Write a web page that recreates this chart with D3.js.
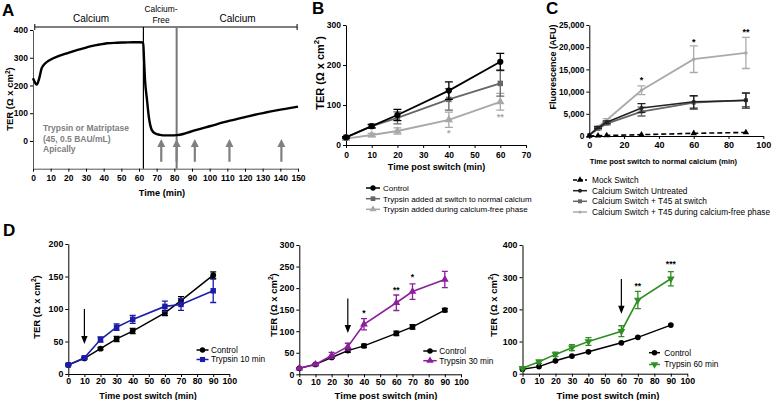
<!DOCTYPE html>
<html><head><meta charset="utf-8">
<script src="https://cdn.jsdelivr.net/npm/d3@7"></script>
<style>
body{margin:0;background:#fff;}
svg{font-family:"Liberation Sans",Arial,sans-serif;}
</style></head><body>
<script>
// ---------- Panel A data ----------
const aTime=[0,1,2.1,3.5,4.9,7,9.6,14,19.1,24,28.5,33,37.9,42,47.4,52,56.8,60,62.4,62.8,63.4,64.5,65.5,67.2,69,71.9,75,78,81.3,85,88,92.6,100,111.5,120,134,142,150];
const aTER=[226,212,203,225,262,280,292,305,316,326,334,342,348,352,354,355,356,356,355,300,220,150,90,40,28,22,20,20,21,25,31,40,53,73,86,106,115,124];
const aArrowTimes=[72.6,81.3,91.6,111.2,140.6];
const aXTicks=d3.range(0,151,10);
const aYTicks=[0,100,200,300,400];
const aPhaseLines=[62.5,81.3];

// ---------- Panel B data ----------
const bTime=[0,10,20,40,60];
const bControl=[19,47,75,136,208];
const bControlErr=[2,4,14,22,21];
const bSwitch=[19,47,68,114,154];
const bSwitchErr=[2,5,15,27,32];
const bDuring=[16,25,35,63,108];
const bDuringErr=[2,4,8,19,21];
const bXTicks=d3.range(0,71,10);
const bYTicks=[0,100,200,300];
const bLegend=["Control","Trypsin added at switch to normal calcium","Trypsin added during calcium-free phase"];

// ---------- Panel C data ----------
const cTime=[0,5,10,30,60,90];
const cMock=[0,60,120,300,600,800];
const cUntreated=[200,1900,3100,6300,7700,8000];
const cUntreatedErr=[0,200,300,1000,1400,1700];
const cSwitch=[200,1600,2800,5500,7500,8100];
const cSwitchErr=[0,200,300,1000,1500,1500];
const cDuring=[200,2100,3600,10300,17300,18700];
const cDuringErr=[0,200,300,1000,3000,3500];
const cXTicks=[0,20,40,60,80,100];
const cYTicks=[0,5000,10000,15000,20000,25000];
const cLegend=["Mock Switch","Calcium Switch Untreated","Calcium Switch + T45 at switch","Calcium Switch + T45 during calcium-free phase"];

// ---------- Panel D data ----------
const dTime=[0,10,20,30,40,60,70,90];
const dXTicks=d3.range(0,101,10);
const d1Control=[14,24,39,54,66,94,113,152];
const d1ControlErr=[1,1,2,4,4,4,6,5];
const d1Trypsin=[14,25,53,72,84,104,107,128];
const d1TrypsinErr=[1,2,4,5,6,8,9,18];
const d2Control=[14,23,39,55,66,95,110,149];
const d2ControlErr=[1,1,2,4,4,5,5,4];
const d2Trypsin=[14,23,44,64,116,166,192,220];
const d2TrypsinErr=[1,2,7,8,13,18,18,19];
const d3Control=[14,22,40,55,68,96,113,151];
const d3Trypsin=[17,37,60,81,100,132,229,295];
const d3TrypsinErr=[2,5,7,9,12,17,27,22];
const d1YTicks=[0,50,100,150,200];
const d2YTicks=[0,50,100,150,200,250,300];
const d3YTicks=[0,100,200,300,400];

// ---------- helpers ----------
const svg=d3.select('body').append('svg').attr('width',781).attr('height',400);
const FONT='"Liberation Sans",Arial,sans-serif';

function styleAxis(sel,fs,col){
  sel.attr('font-family',FONT).attr('font-size',fs).attr('font-weight','bold');
  sel.select('.domain').attr('stroke',col||'#000').attr('stroke-width',1);
  sel.selectAll('.tick line').attr('stroke','#000');
  sel.selectAll('.tick text').attr('fill','#000');
}
function panel(p){
  const x=d3.scaleLinear().domain(p.xd).range(p.xr);
  const y=d3.scaleLinear().domain(p.yd).range(p.yr);
  const g=svg.append('g');
  const xa=g.append('g').attr('transform',`translate(0,${p.yr[0]})`)
    .call(d3.axisBottom(x).tickValues(p.xt).tickSize(3).tickSizeOuter(0).tickPadding(p.xpad!=null?p.xpad:2));
  styleAxis(xa,p.xfs||8.5,p.axcol);
  const ya=g.append('g').attr('transform',`translate(${p.xr[0]},0)`)
    .call(d3.axisLeft(y).tickValues(p.yt).tickSize(3).tickSizeOuter(0).tickPadding(2));
  styleAxis(ya,p.yfs||8.5,p.axcol);
  return {g,x,y};
}
function symbolPath(type,size){
  const t={circle:d3.symbolCircle,square:d3.symbolSquare,triangle:d3.symbolTriangle}[type];
  return d3.symbol().type(t).size(size)();
}
function marker(g,cx,cy,o){
  g.append('path').attr('d',symbolPath(o.sym,o.ms))
   .attr('transform',`translate(${cx},${cy})${o.flip?' rotate(180)':''}`)
   .attr('fill',o.color).attr('stroke','none');
}
function series(P,xs,ys,errs,o){
  const {g,x,y}=P;
  const line=d3.line().x((d,i)=>x(xs[i])).y(d=>y(d));
  g.append('path').datum(ys).attr('d',line).attr('fill','none')
   .attr('stroke',o.color).attr('stroke-width',o.lw||1.5)
   .attr('stroke-dasharray',o.dash||null);
  if(errs){
    errs.forEach((e,i)=>{
      if(!e) return;
      const cx=x(xs[i]),y1=y(ys[i]+e),y2=y(ys[i]-e),c=o.cap||3;
      g.append('path').attr('d',`M${cx},${y1}V${y2}M${cx-c},${y1}H${cx+c}M${cx-c},${y2}H${cx+c}`)
       .attr('stroke',o.color).attr('stroke-width',o.elw||1.3).attr('fill','none');
    });
  }
  if(o.sym) ys.forEach((v,i)=>marker(g,x(xs[i]),y(v),o));
}
function legend(items,x0,x1,tx,ys,fs){
  items.forEach((it,i)=>{
    const yy=ys[i];
    svg.append('line').attr('x1',x0).attr('x2',x1).attr('y1',yy).attr('y2',yy)
      .attr('stroke',it.color).attr('stroke-width',1.5).attr('stroke-dasharray',it.dash||null);
    if(it.sym) marker(svg,(x0+x1)/2,yy,it);
    svg.append('text').attr('x',tx).attr('y',yy).attr('dy','0.35em')
      .attr('font-size',fs).attr('fill','#000').text(it.label);
  });
}
function terTitle(cx,cy,fs){
  const t=svg.append('text').attr('transform',`translate(${cx+fs*0.35},${cy}) rotate(-90)`)
    .attr('text-anchor','middle').attr('font-weight','bold').attr('font-size',fs).attr('fill','#000');
  t.append('tspan').text('TER (Ω x cm');
  t.append('tspan').text('2').attr('font-size',fs*0.7).attr('dy',-fs*0.4);
  t.append('tspan').text(')').attr('dy',fs*0.4);
}
function vTitle(cx,cy,fs,txt){
  svg.append('text').attr('transform',`translate(${cx+fs*0.35},${cy}) rotate(-90)`)
    .attr('text-anchor','middle').attr('font-weight','bold').attr('font-size',fs).attr('fill','#000').text(txt);
}
function hText(x,y,fs,txt,o={}){
  return svg.append('text').attr('x',x).attr('y',y).attr('text-anchor',o.anchor||'middle')
    .attr('font-size',fs).attr('font-weight',o.bold?'bold':'normal').attr('fill',o.fill||'#000').text(txt);
}
function star(P,t,v,txt,col,fs){
  P.g.append('text').attr('x',P.x(t)).attr('y',P.y(v)).attr('dy','0.6em').attr('text-anchor','middle')
    .attr('font-size',fs||9).attr('font-weight','bold').attr('fill',col||'#000').text(txt);
}
function downArrow(P,t,v0,v1){
  const cx=P.x(t),ya=P.y(v0),yb=P.y(v1);
  P.g.append('line').attr('x1',cx).attr('x2',cx).attr('y1',ya).attr('y2',yb-6).attr('stroke','#000').attr('stroke-width',1.2);
  P.g.append('path').attr('d',`M${cx-3.2},${yb-8}L${cx+3.2},${yb-8}L${cx},${yb}Z`).attr('fill','#000');
}

// ---------- Panel A ----------
const A=panel({xd:[0,150],xr:[33,298],yd:[-100,400],yr:[168.7,30],xt:aXTicks,yt:aYTicks,xfs:8.5,yfs:8.5,xpad:3,axcol:'#555'});
{
  const yb=27,x0=A.x(1),x1=A.x(149.5);
  A.g.append('path').attr('d',`M${x0},${yb-3}V${yb+3}M${x0},${yb}H${x1}M${x1},${yb-3}V${yb+3}`).attr('stroke','#000').attr('fill','none').attr('stroke-width',1);
  A.g.append('line').attr('x1',A.x(aPhaseLines[0])).attr('x2',A.x(aPhaseLines[0])).attr('y1',yb).attr('y2',A.y(-100)).attr('stroke','#000').attr('stroke-width',1.2);
  A.g.append('line').attr('x1',A.x(aPhaseLines[1])).attr('x2',A.x(aPhaseLines[1])).attr('y1',yb).attr('y2',A.y(-100)).attr('stroke','#777').attr('stroke-width',2);
}
A.g.append('path').datum(aTER).attr('d',d3.line().x((d,i)=>A.x(aTime[i])).y(d=>A.y(d)).curve(d3.curveMonotoneX))
  .attr('fill','none').attr('stroke','#000').attr('stroke-width',2.4);
aArrowTimes.forEach(t=>{
  const cx=A.x(t),tip=A.y(7),base=A.y(-75);
  A.g.append('line').attr('x1',cx).attr('x2',cx).attr('y1',base).attr('y2',tip+6).attr('stroke','#808080').attr('stroke-width',2.2);
  A.g.append('path').attr('d',`M${cx-4},${tip+8}L${cx+4},${tip+8}L${cx},${tip}Z`).attr('fill','#808080');
});
hText(91,22,10,'Calcium');
hText(161,12,8.4,'Calcium-');
hText(161,23,8.4,'Free');
hText(237.5,22,10,'Calcium');
hText(43,131,8.5,'Trypsin or Matriptase',{anchor:'start',bold:true,fill:'#808080'});
hText(43,141.5,8.5,'(45, 0.5 BAU/mL)',{anchor:'start',bold:true,fill:'#808080'});
hText(43,152,8.5,'Apically',{anchor:'start',bold:true,fill:'#808080'});
hText(162,196,9.2,'Time (min)',{bold:true});
terTitle(10,99,9.5);
hText(2,16,17,'A',{anchor:'start',bold:true});

// ---------- Panel B ----------
const B=panel({xd:[0,70],xr:[346,526],yd:[0,300],yr:[145,25],xt:bXTicks,yt:bYTicks,xfs:8.5,yfs:8.5,xpad:4});
series(B,bTime,bDuring,bDuringErr,{color:'#a8a8a8',sym:'triangle',ms:30,cap:4,lw:1.8});
series(B,bTime,bSwitch,bSwitchErr,{color:'#666',sym:'square',ms:30,cap:4,lw:1.8});
series(B,bTime,bControl,bControlErr,{color:'#000',sym:'circle',ms:30,cap:4,lw:1.8});
star(B,40,36,'*','#a8a8a8',9);
star(B,60,75,'**','#a8a8a8',9);
hText(436.5,170,9,'Time post switch (min)',{bold:true});
terTitle(320,73,11);
hText(312,14,17,'B',{anchor:'start',bold:true});
legend([
  {label:bLegend[0],color:'#000',sym:'circle',ms:22},
  {label:bLegend[1],color:'#666',sym:'square',ms:22},
  {label:bLegend[2],color:'#a8a8a8',sym:'triangle',ms:22}
],366,380,383,[188,198.7,209.3],8);

// ---------- Panel C ----------
const C=panel({xd:[0,100],xr:[589.3,763.3],yd:[0,25000],yr:[136,25],xt:cXTicks,yt:cYTicks,xfs:9,yfs:8.3,xpad:3});
series(C,cTime,cDuring,cDuringErr,{color:'#aaa',sym:'circle',ms:10,cap:4,lw:1.8});
series(C,cTime,cSwitch,cSwitchErr,{color:'#666',sym:'square',ms:16,cap:4,lw:1.8});
series(C,cTime,cUntreated,cUntreatedErr,{color:'#222',sym:'circle',ms:12,cap:4,lw:1.6});
series(C,cTime,cMock,null,{color:'#000',sym:'triangle',ms:18,lw:1.6,dash:'5,3'});
star(C,30,13200,'*','#000',9);
star(C,60,21800,'*','#000',9);
star(C,90,24000,'**','#000',9);
hText(663.4,163.5,7.5,'Time post switch to normal calcium (min)',{bold:true});
vTitle(553,67,9,'Fluorescence (AFU)');
hText(546,14,17,'C',{anchor:'start',bold:true});
legend([
  {label:cLegend[0],color:'#000',sym:'triangle',ms:18,dash:'4,2'},
  {label:cLegend[1],color:'#222',sym:'circle',ms:12},
  {label:cLegend[2],color:'#666',sym:'square',ms:16},
  {label:cLegend[3],color:'#aaa',sym:'circle',ms:8}
],573,587,592,[180,190.7,201.3,212],8.3);

// ---------- Panel D ----------
const D1=panel({xd:[0,100],xr:[68.3,229.3],yd:[0,200],yr:[374,244],xt:dXTicks,yt:d1YTicks,xfs:8.8,yfs:8.8,xpad:1});
series(D1,dTime,d1Control,d1ControlErr,{color:'#000',sym:'circle',ms:26,cap:3,lw:1.5});
series(D1,dTime,d1Trypsin,d1TrypsinErr,{color:'#1c1caa',sym:'square',ms:30,cap:3,lw:1.6});
downArrow(D1,10,100,46);
legend([{label:'Control',color:'#000',sym:'circle',ms:24},{label:'Trypsin 10 min',color:'#1c1caa',sym:'square',ms:26}],196.5,208.5,211,[350,359.5],8.3);
hText(148,398.5,9,'Time post switch (min)',{bold:true});
terTitle(36.7,307,9.5);
hText(3,236,17,'D',{anchor:'start',bold:true});

const D2=panel({xd:[0,100],xr:[299.3,461],yd:[0,300],yr:[374.3,245],xt:dXTicks,yt:d2YTicks,xfs:8.8,yfs:8.8,xpad:1});
series(D2,dTime,d2Control,d2ControlErr,{color:'#000',sym:'circle',ms:26,cap:3,lw:1.5});
series(D2,dTime,d2Trypsin,d2TrypsinErr,{color:'#8b1f9c',sym:'triangle',ms:26,cap:3,lw:1.6});
downArrow(D2,30,176,96);
star(D2,40,146,'*','#000',8.5);
star(D2,60,201,'**','#000',8.5);
star(D2,70,231,'*','#000',8.5);
legend([{label:'Control',color:'#000',sym:'circle',ms:24},{label:'Trypsin 30 min',color:'#8b1f9c',sym:'triangle',ms:24}],423.3,436.7,439.3,[351,360.7],8.3);
hText(386,398.5,9.5,'Time post switch (min)',{bold:true});
terTitle(273.3,305,9.5);

const D3=panel({xd:[0,100],xr:[522.5,687.3],yd:[0,400],yr:[373.7,245],xt:dXTicks,yt:d3YTicks,xfs:8.8,yfs:8.8,xpad:1});
series(D3,dTime,d3Control,null,{color:'#000',sym:'circle',ms:26,cap:3,lw:1.5});
series(D3,dTime,d3Trypsin,d3TrypsinErr,{color:'#2f8f24',sym:'triangle',flip:true,ms:26,cap:3,lw:1.6});
downArrow(D3,60,294,186);
star(D3,70,279,'**','#000',8.5);
star(D3,90,346,'***','#000',8.5);
legend([{label:'Control',color:'#000',sym:'circle',ms:24},{label:'Trypsin 60 min',color:'#2f8f24',sym:'triangle',flip:true,ms:24}],649,660,664.3,[352.7,364.5],8.3);
hText(608,398.5,9.5,'Time post switch (min)',{bold:true});
terTitle(493.3,305,9.5);
</script>
</body></html>
